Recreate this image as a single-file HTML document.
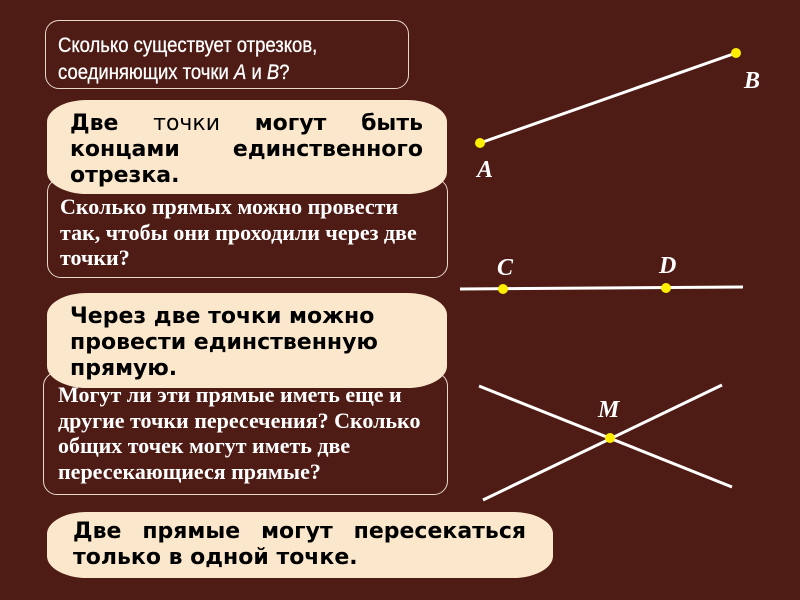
<!DOCTYPE html>
<html><head><meta charset="utf-8"><style>
body{margin:0;width:800px;height:600px;background:#4e1b15;position:relative;overflow:hidden}
.q{position:absolute;border:1px solid #e8d8c8;border-radius:14px;box-sizing:border-box;color:#fff;white-space:nowrap}
.c{position:absolute;background:#fbe8cc;border-radius:40px/22px;box-sizing:border-box;color:#000;font-family:"DejaVu Sans",sans-serif;font-weight:bold;font-size:22px;line-height:26px}
.s{font-family:"Liberation Serif",serif;font-weight:bold;font-size:22px;line-height:25.5px}
svg{position:absolute;left:0;top:0}
</style></head><body>
<div class="q" style="left:45px;top:20px;width:364px;height:69px;padding:11px 0 0 12px"><div style="font-family:'Liberation Sans',sans-serif;font-size:21px;line-height:27px;transform:scaleX(0.88);transform-origin:0 0;-webkit-text-stroke:0.3px #fff">Сколько существует отрезков,<br>соединяющих точки <i>A</i> и <i>B</i>?</div></div>
<div class="q s" style="left:47px;top:178px;width:401px;height:100px;padding:15px 0 0 12px">Сколько прямых можно провести<br>так, чтобы они проходили через две<br>точки?</div>
<div class="c" style="left:47px;top:100px;width:400px;height:94px;padding:11px 24px 0 23px;text-align:justify;text-align-last:left">Две <span style="font-weight:normal">точки</span> могут быть концами единственного отрезка.</div>
<div class="q s" style="left:43px;top:372px;width:405px;height:123px;padding:9px 0 0 14px">Могут ли эти прямые иметь еще и<br>другие точки пересечения? Сколько<br>общих точек могут иметь две<br>пересекающиеся прямые?</div>
<div class="c" style="left:47px;top:293px;width:400px;height:95px;padding:11px 0 0 23px;white-space:nowrap">Через две точки можно<br>провести единственную<br>прямую.</div>
<div class="c" style="left:47px;top:512px;width:506px;height:66px;padding:7px 27px 0 26px;text-align:justify;text-align-last:left">Две прямые могут пересекаться только в одной точке.</div>
<svg width="800" height="600" font-family="Liberation Serif,serif" font-weight="bold" font-style="italic" font-size="24" fill="#fff">
<g stroke="#fff" stroke-width="3"><line x1="480" y1="143" x2="736" y2="53"/><line x1="460" y1="289" x2="743" y2="287"/><line x1="479" y1="386" x2="732" y2="487"/><line x1="483" y1="500" x2="722" y2="385"/></g>
<g fill="#ffee00"><circle cx="480" cy="143" r="5"/><circle cx="736" cy="53" r="5"/><circle cx="503" cy="289" r="5"/><circle cx="666" cy="288" r="5"/><circle cx="610" cy="438" r="5"/></g>
<text x="744" y="88">B</text><text x="477" y="177">A</text><text x="497" y="275">C</text><text x="659" y="273">D</text><text x="598" y="417">M</text>
</svg>
</body></html>
